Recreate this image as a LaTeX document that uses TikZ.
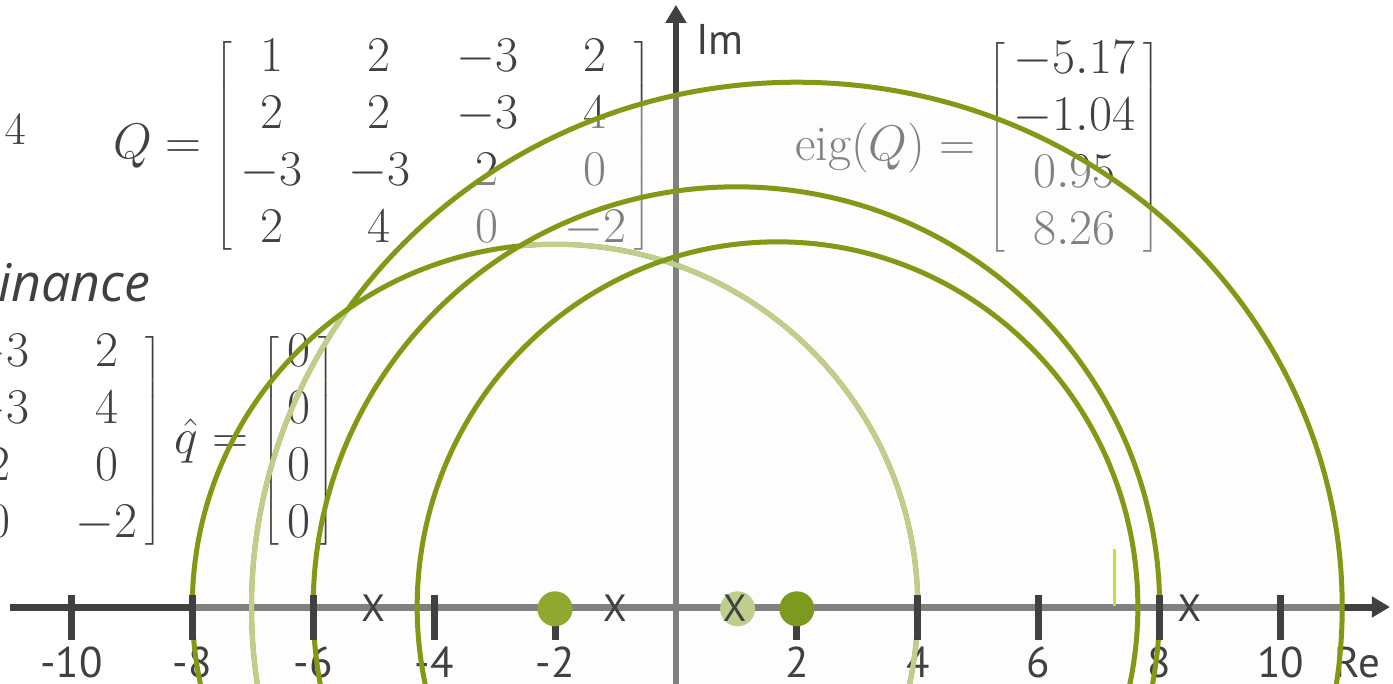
\RequirePackage{fix-cm}
\documentclass[tikz,border=0pt]{standalone}
\usepackage{amsmath}
\usepackage{fontspec}
\setsansfont{PT Sans}
\newfontfamily\slidefont{Open Sans}
\usepackage{tikz}
\usetikzlibrary{arrows.meta}
\definecolor{axisgray}{RGB}{64,64,64}
\definecolor{discgreen}{RGB}{128,154,22}
\definecolor{discpale}{RGB}{192,206,140}
\definecolor{dotdark}{RGB}{124,154,30}
\definecolor{dotmid}{RGB}{143,168,45}
\definecolor{dotpale}{RGB}{190,206,140}
\definecolor{markgreen}{RGB}{200,222,60}
\setlength{\arraycolsep}{23pt}
\delimiterfactor=880
\delimitershortfall=26pt
\newcommand{\bmat}[1]{\left[\,\begin{matrix}#1\end{matrix}\,\right]}

\tikzset{
  discB/.style={insert path={(2,0) ellipse [x radius=9.02,y radius=8.68]}},
  discD/.style={insert path={(-2,0) circle (6)}},
  discA/.style={insert path={(1,0) ellipse [x radius=7,y radius=6.95]}},
  discC/.style={insert path={(1.68,0) ellipse [x radius=5.96,y radius=6.04]}},
}

\begin{document}
\begin{tikzpicture}[x=60.45pt,y=60.45pt,
    axis/.style={axisgray,line width=7pt,-{Triangle[length=18pt,width=20pt]}},
    tick/.style={axisgray,line width=7pt},
    ticklabel/.style={font=\sffamily\fontsize{43}{46}\selectfont,text=axisgray,inner sep=0pt},
    mathtext/.style={font=\fontsize{50}{57}\selectfont,text=axisgray,inner sep=0pt},
    ring/.style={discgreen,line width=5pt},
    paler/.style={discpale,line width=5pt},
    eigmark/.style={font=\sffamily\fontsize{38}{40}\selectfont,text=axisgray,inner sep=0pt},
    eigdot/.style={circle,minimum size=35pt,inner sep=0pt}]
  \useasboundingbox (-11.18,-1.257) rectangle (11.86,10.04);

  % axes and the matrices behind the discs
  \coordinate (reStart) at (-11.02,0);
  \coordinate (reEnd) at (11.81,0);
  \coordinate (imStart) at (0,-1.4);
  \coordinate (imEnd) at (0,9.96);
  \draw[axis] (reStart) -- (reEnd);
  \draw[axis,line width=6pt] (imStart) -- (imEnd);

  \node[text=axisgray,inner sep=0pt,font=\fontsize{46}{50}\selectfont] (dimsup) at (-10.93,7.9) {$4$};
  \node[anchor=base west,inner sep=0pt,text=axisgray,font=\slidefont\itshape\fontsize{52}{56}\selectfont] (dominance) at (-11.21,5.05) {inance};
  \node[mathtext,anchor=west] (qmat) at (-9.31,7.63)
    {$Q = \bmat{ 1 & 2 & -3 & 2\\ 2 & 2 & -3 & 4\\ -3 & -3 & 2 & 0\\ 2 & 4 & 0 & -2 }$};
  \node[mathtext,anchor=west] (eigvec) at (1.97,7.60)
    {$\mathrm{eig}(Q) = \bmat{ -5.17\\ -1.04\\ 0.95\\ 8.26 }$};
  \node[mathtext,anchor=east] (qold) at (-8.49,2.75)
    {$\bmat{ -3 & 2\\ -3 & 4\\ 2 & 0\\ 0 & -2 }$};

  % veil over everything inside the discs
  \fill[gray!5,fill opacity=0.35] [discB] [discD];

  \node[mathtext,anchor=west] (qhat) at (-8.29,2.75)
    {$\hat{q} = \bmat{ 0\\ 0\\ 0\\ 0 }$};
  \foreach \t in {-10,-8,-6,-4,-2,2,4,6,8,10}
    \node[ticklabel] (lbl\t) at (\t,-0.91) {\t};
  \node[ticklabel] (relabel) at (11.27,-0.91) {Re};
  \node[ticklabel,anchor=west] (imlabel) at (0.33,9.38) {Im};

  % Gershgorin discs, later ones fade the rims they cover
  \draw[ring] [discB];
  \begin{scope}
    \clip [discD];
    \draw[paler] [discB];
  \end{scope}
  \draw[ring] [discD];
  \begin{scope}
    \clip [discA] [discC];
    \draw[paler] [discD];
  \end{scope}
  \draw[ring] [discA];
  \draw[ring] [discC];

  \foreach \t in {-10,-8,-6,-4,-2,2,4,6,8,10}
    \draw[tick] (\t,0.2) -- (\t,-0.546);
  \draw[markgreen,line width=3pt] (7.26,0.02) -- (7.26,0.96);

  \node[eigdot,fill=dotmid] (centD) at (-2,-0.03) {};
  \node[eigdot,fill=dotdark] (centB) at (2,-0.03) {};
  \node[eigdot,fill=dotpale] (centA) at (1.02,-0.03) {};
  \foreach \e/\n in {-5.01/1,-1.01/2,0.97/3,8.49/4}
    \node[eigmark] (eig\n) at (\e,-0.02) {X};
\end{tikzpicture}
\end{document}
